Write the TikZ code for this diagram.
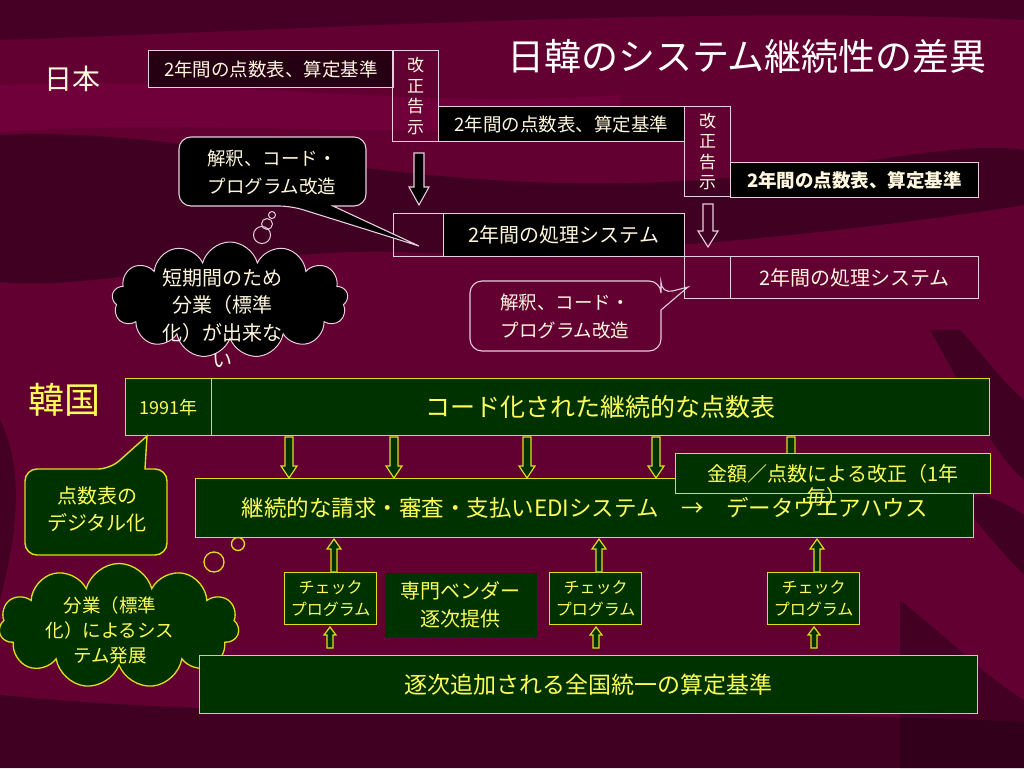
\documentclass[tikz,border=0pt]{standalone}
\usepackage{fontspec}
\setmainfont{Noto Sans CJK JP}
\usetikzlibrary{shapes.symbols}
\definecolor{bgbase}{RGB}{98,0,50}
\definecolor{bgdark}{RGB}{40,0,22}
\definecolor{bglight}{RGB}{125,0,65}
\definecolor{jtext}{RGB}{255,246,222}
\definecolor{jline}{RGB}{232,206,222}
\definecolor{jfill}{RGB}{36,0,18}
\definecolor{kyel}{RGB}{255,255,90}
\definecolor{kline}{RGB}{222,222,30}
\definecolor{kgreen}{RGB}{0,50,0}
\newcommand\fsz[2]{\fontsize{#1}{#2}\selectfont}
\newcommand\blkdown[7]{\draw[#1] ({#2-#5},#3) -- ({#2+#5},#3) -- ({#2+#5},{#4-#7}) -- ({#2+#6},{#4-#7}) -- (#2,#4) -- ({#2-#6},{#4-#7}) -- ({#2-#5},{#4-#7}) -- cycle;}
\newcommand\blkup[7]{\draw[#1] ({#2-#5},#3) -- ({#2+#5},#3) -- ({#2+#5},{#4+#7}) -- ({#2+#6},{#4+#7}) -- (#2,#4) -- ({#2-#6},{#4+#7}) -- ({#2-#5},{#4+#7}) -- cycle;}
\tikzset{
  jbox/.style={draw=jline, line width=1.1pt, text=jtext, inner sep=0pt, anchor=north west, align=center},
  kbox/.style={draw=kline, line width=1.4pt, fill=kgreen, text=kyel, inner sep=0pt, anchor=north west, align=center},
  jtxt/.style={text=jtext, inner sep=0pt, align=center},
  ktxt/.style={text=kyel, inner sep=0pt, align=center},
  jarr/.style={draw=jline, line width=1.1pt},
  karr/.style={draw=kline, line width=1.2pt, fill=kgreen},
  bubj/.style={draw=jline, line width=1pt},
  bubk/.style={draw=kline, line width=1.3pt},
}
\begin{document}
\begin{tikzpicture}[x=1pt,y=-1pt]
\useasboundingbox (0,0) rectangle (1024,768);
% background
\fill[bgbase] (0,0) rectangle (1024,768);
\fill[bglight,opacity=.5] (0,85) .. controls (200,75) and (400,110) .. (620,95) -- (620,125) .. controls (400,140) and (200,118) .. (0,132) -- cycle;
\fill[bgdark,opacity=.6] (0,135) .. controls (200,125) and (400,200) .. (700,180) .. controls (850,170) and (950,140) .. (1024,150) -- (1024,205) .. controls (900,225) and (600,262) .. (400,252) .. controls (250,247) and (100,292) .. (0,282) -- cycle;
\fill[bgdark,opacity=.45] (0,0) -- (1024,0) -- (1024,20) .. controls (700,5) and (300,30) .. (0,40) -- cycle;
\fill[bgdark,opacity=.6] (0,695) .. controls (300,725) and (700,705) .. (1024,722) -- (1024,768) -- (0,768) -- cycle;
\fill[bgdark,opacity=.6] (930,330) .. controls (970,400) and (990,450) .. (1024,480) -- (1024,400) .. controls (1000,380) and (980,350) .. (960,330) -- cycle;
\fill[bgdark,opacity=.6] (960,500) .. controls (990,540) and (1010,560) .. (1024,575) -- (1024,515) .. controls (1010,505) and (995,500) .. (985,495) -- cycle;
\fill[bgdark,opacity=.5] (900,600) .. controls (950,640) and (990,680) .. (1024,700) -- (1024,768) -- (900,768) -- cycle;
\fill[bgdark,opacity=.5] (0,420) .. controls (30,480) and (10,560) .. (0,600) -- cycle;

% ---------------- Japan ----------------
\node[text=white, inner sep=0pt, font=\fsz{37}{40}] (title) at (747,56) {日韓のシステム継続性の差異};
\node[jtxt, font=\fsz{28}{32}] (jp) at (72,79) {日本};

\node[jbox, fill=jfill, minimum width=245, minimum height=37, font=\fsz{18.5}{22}] (jA1) at (148,50) {2年間の点数表、算定基準};
\node[jbox, minimum width=46, minimum height=91, font=\fsz{17}{20.5}] (jK1) at (392,50) {改\\正\\告\\示};
\node[jbox, fill=black, minimum width=246, minimum height=35, font=\fsz{18.5}{22}] (jA2) at (438,106) {2年間の点数表、算定基準};
\node[jbox, minimum width=46, minimum height=90, font=\fsz{17}{20.5}] (jK2) at (684,106) {改\\正\\告\\示};
\node[jbox, fill=black, minimum width=248, minimum height=35, font=\fsz{18.5}{22}\bfseries] (jA3) at (730,162) {2年間の点数表、算定基準};

\node[jbox, minimum width=50, minimum height=43] (jS1a) at (393,213) {};
\node[jbox, fill=black, minimum width=241, minimum height=43, font=\fsz{20}{24}] (jS1b) at (443,213) {2年間の処理システム};
\node[jbox, minimum width=46, minimum height=42] (jS2a) at (684,256) {};
\node[jbox, minimum width=248, minimum height=42, font=\fsz{20}{24}] (jS2b) at (730,256) {2年間の処理システム};

\blkdown{jarr, fill=black}{419}{153}{205}{5}{10}{18}
\blkdown{jarr}{708}{204}{247}{5}{10}{16}

% callout 1
\draw[jarr, fill=black, rounded corners=12] (333,206) -- (366,206) -- (366,137) -- (179,137) -- (179,206) -- (291,206) [sharp corners] -- (419,246) -- cycle;
\node[jtxt, font=\fsz{18.5}{28}] (jC1) at (272,172) {解釈、コード・\\プログラム改造};
% callout 2
\draw[jarr, rounded corners=12] (661,310) -- (661,351) -- (470,351) -- (470,281) -- (661,281) -- (661,294) [sharp corners] -- (688,287) -- cycle;
\node[jtxt, font=\fsz{18.5}{28}] (jC2) at (565,316) {解釈、コード・\\プログラム改造};

% thought cloud 1
\node[cloud, cloud puffs=13, aspect=2, draw=jline, line width=1pt, fill=black, minimum width=236, minimum height=116, inner sep=0pt] (cl1) at (230,300) {};
\draw[bubj] (272,215) circle (3.5);
\draw[bubj] (267,224) circle (5.5);
\draw[bubj] (262,235) circle (8.5);
\node[jtxt, font=\fsz{20}{27.5}] (cl1t) at (222,318) {短期間のため\\分業（標準\\化）が出来な\\い};

% ---------------- Korea ----------------
\node[ktxt, font=\fsz{36}{40}] (kr) at (64,400) {韓国};
\node[kbox, minimum width=86, minimum height=57, font=\fsz{18}{22}] (k91) at (125,378) {1991年};
\node[kbox, minimum width=778, minimum height=57, font=\fsz{25}{30}] (kCode) at (211,378) {コード化された継続的な点数表};
\node[kbox, minimum width=778, minimum height=59, font=\fsz{22.5}{27}] (kEDI) at (195,478) {継続的な請求・審査・支払いEDIシステム\quad →\quad データウエアハウス};

\foreach \xx in {289,394,527,656} {\blkdown{karr}{\xx}{437}{478}{4}{8}{12}}
\blkdown{karr}{791}{437}{478}{4}{8}{12}
\node[kbox, minimum width=315, minimum height=40, font=\fsz{20}{24}] (kKin) at (675,453) {金額／点数による改正（1年};
\node[ktxt, font=\fsz{20}{24}] (kKin2) at (826,497) {毎）};

% callout Korea
\draw[karr, line width=1.4pt, rounded corners=12] (145,469) -- (167,469) -- (167,555) -- (25,555) -- (25,469) -- (110,469) [sharp corners] -- (147,436) -- cycle;
\node[ktxt, font=\fsz{20}{27}] (kDig) at (97,509) {点数表の\\デジタル化};

% thought cloud 2
\node[cloud, cloud puffs=11, aspect=2, draw=kline, line width=1.3pt, fill=kgreen, minimum width=240, minimum height=125, inner sep=0pt] (cl2) at (119,626) {};
\draw[bubk] (238,544) circle (6.5);
\draw[bubk] (214,562) circle (10);
\node[ktxt, font=\fsz{18.5}{25}] (cl2t) at (110,630) {分業（標準\\化）によるシス\\テム発展};

% check programs
\node[kbox, minimum width=92, minimum height=52, font=\fsz{16}{22}] (kC1) at (284,572) {チェック\\プログラム};
\node[kbox, draw=none, minimum width=152, minimum height=64, font=\fsz{20}{28}] (kVen) at (384,572) {専門ベンダー\\逐次提供};
\node[kbox, minimum width=92, minimum height=52, font=\fsz{16}{22}] (kC2) at (549,572) {チェック\\プログラム};
\node[kbox, minimum width=92, minimum height=52, font=\fsz{16}{22}] (kC3) at (767,572) {チェック\\プログラム};

\foreach \xx in {334,599,817} {\blkup{karr}{\xx}{572}{539}{3}{7}{10}}
\foreach \xx in {330,596,814} {\blkup{karr}{\xx}{648}{627}{3}{6}{8}}

\node[kbox, minimum width=778, minimum height=58, font=\fsz{23}{28}] (kBase) at (199,655) {逐次追加される全国統一の算定基準};
\end{tikzpicture}
\end{document}
